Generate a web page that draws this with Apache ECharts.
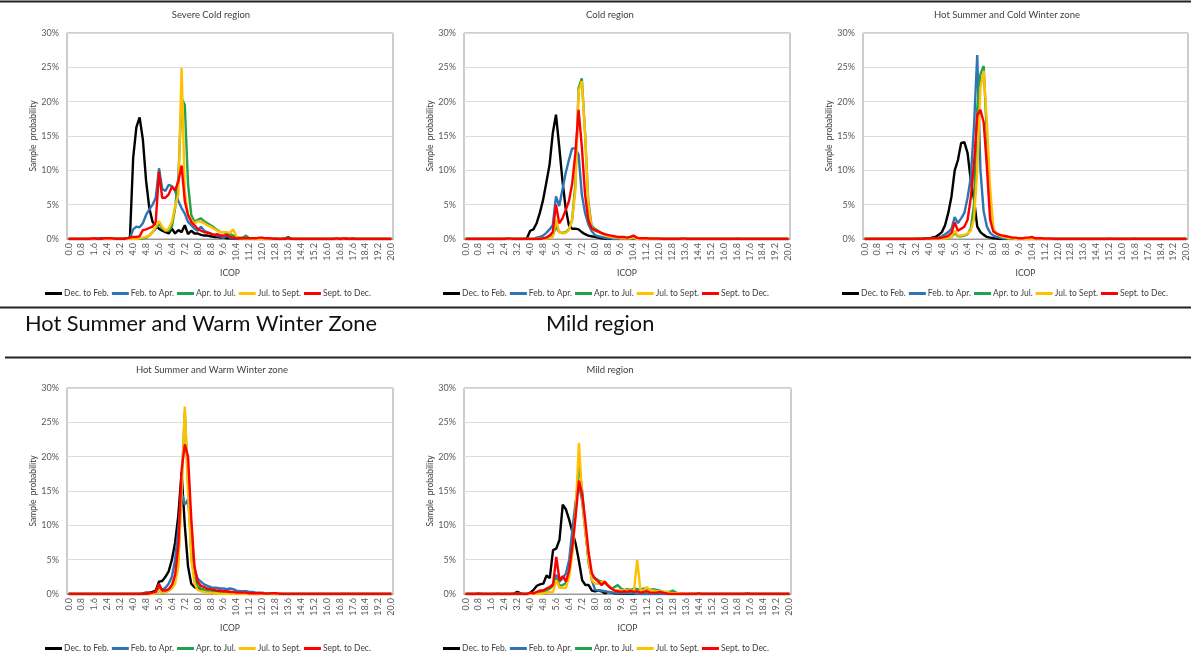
<!DOCTYPE html>
<html><head><meta charset="utf-8">
<script src="https://cdn.jsdelivr.net/npm/echarts/dist/echarts.min.js"></script>
<style>html,body{margin:0;padding:0;background:#fff;}#c{width:1191px;height:659px;}</style>
</head><body><div id="c"></div>
<script>
// ---------- categories / tick labels ----------
const icop = ['0.0','0.2','0.4','0.6','0.8','1.0','1.2','1.4','1.6','1.8',
'2.0','2.2','2.4','2.6','2.8','3.0','3.2','3.4','3.6','3.8',
'4.0','4.2','4.4','4.6','4.8','5.0','5.2','5.4','5.6','5.8',
'6.0','6.2','6.4','6.6','6.8','7.0','7.2','7.4','7.6','7.8',
'8.0','8.2','8.4','8.6','8.8','9.0','9.2','9.4','9.6','9.8',
'10.0','10.2','10.4','10.6','10.8','11.0','11.2','11.4','11.6','11.8',
'12.0','12.2','12.4','12.6','12.8','13.0','13.2','13.4','13.6','13.8',
'14.0','14.2','14.4','14.6','14.8','15.0','15.2','15.4','15.6','15.8',
'16.0','16.2','16.4','16.6','16.8','17.0','17.2','17.4','17.6','17.8',
'18.0','18.2','18.4','18.6','18.8','19.0','19.2','19.4','19.6','19.8','20.0'];
const seasons = ['Dec. to Feb.','Feb. to Apr.','Apr. to Jul.','Jul. to Sept.','Sept. to Dec.'];
const panelTitles = ['Severe Cold region','Cold region','Hot Summer and Cold Winter zone','Hot Summer and Warm Winter zone','Mild region'];
const headerTitles = ['Hot Summer and Warm Winter Zone','Mild region'];

// ---------- Severe Cold region (sample probability, %) ----------
const sc_dec = [0,0,0,0,0,0,0,0,0,0.05, 0.1,0.1,0.1,0.1,0.05,0.05,0.05,0.05,0.1,0.2, 11.8,16.3,17.7,14.5,8.5,4.5,2.5,2.0,1.5,1.2, 1.0,0.8,1.5,0.8,1.3,1.0,2.0,0.7,1.2,0.8, 0.8,0.6,0.5,0.5,0.4,0.3,0.3,0.2,0.2,0.1, 0.1,0.05,0,0,0,0,0,0,0,0, 0,0,0,0,0,0,0,0.1,0.25,0.05, 0,0,0,0,0,0,0,0,0,0, 0,0,0,0,0,0,0.1,0,0.1,0, 0,0,0,0,0,0,0,0,0,0, 0];
const sc_feb = [0,0,0,0,0,0,0,0,0,0, 0,0,0,0,0,0,0,0,0,0.1, 1.4,1.8,1.7,2.3,3.5,4.3,5.0,6.0,10.3,7.3, 7.0,7.9,7.7,7.0,5.5,4.5,3.7,2.5,2.0,1.5, 1.2,1.8,1.2,1.0,0.8,0.6,0.5,0.4,0.2,0.5, 0.2,0.1,0.05,0,0,0,0,0,0,0, 0,0,0,0,0.1,0,0,0,0,0, 0,0,0,0,0,0,0,0,0,0, 0,0,0,0,0,0,0,0,0,0, 0,0,0,0,0,0,0,0,0,0, 0];
const sc_apr = [0,0,0,0,0,0,0,0,0,0, 0,0,0,0,0,0,0,0,0,0, 0,0,0,0.1,0.2,0.5,1.0,1.5,2.3,1.5, 1.3,1.2,1.8,4.5,9.0,20.5,19.5,8.0,3.5,2.5, 2.8,3.0,2.6,2.3,2.0,1.7,1.3,1.0,1.0,0.8, 0.7,0.5,0.3,0.2,0.2,0.5,0.1,0.05,0,0, 0,0,0,0,0,0,0,0,0,0, 0,0,0,0,0,0,0,0,0,0, 0,0,0,0,0,0,0,0,0,0, 0,0,0,0,0,0,0,0,0,0, 0];
const sc_jul = [0,0,0,0,0,0,0,0,0,0, 0,0,0,0,0,0,0,0,0,0, 0,0,0.1,0.2,0.3,0.5,1.0,1.8,2.6,1.8, 1.2,1.5,2.5,4.8,6.5,24.9,7.0,3.5,2.8,2.3, 2.6,2.5,2.3,2.0,1.8,1.5,1.2,1.0,1.0,1.0, 0.9,1.4,0.4,0.1,0.05,0,0,0,0,0, 0,0,0,0,0,0,0,0,0,0, 0,0,0,0,0,0,0,0,0,0, 0,0,0,0,0,0,0,0,0,0, 0,0,0,0,0,0,0,0,0,0, 0];
const sc_sep = [0,0,0,0,0,0,0,0.05,0.1,0, 0,0.1,0.1,0.1,0.05,0,0,0,0.1,0.2, 0.3,0.3,0.4,1.3,1.4,1.6,1.8,2.5,9.8,6.0, 6.0,6.5,7.6,7.1,8.4,10.7,5.5,3.5,2.5,2.0, 1.5,1.2,1.0,0.9,0.8,0.6,0.7,0.5,0.5,0.6, 0.3,0.2,0.1,0.1,0.1,0.1,0.1,0.1,0.1,0.2, 0.2,0.1,0.1,0.05,0,0,0,0,0.1,0, 0,0,0,0,0,0,0,0,0,0, 0,0,0,0.1,0,0.1,0,0,0,0, 0,0,0,0,0,0,0,0,0,0, 0];

// ---------- Cold region ----------
const cd_dec = [0,0,0,0,0,0,0,0,0,0, 0,0,0,0.05,0,0,0,0,0,0.1, 1.2,1.4,2.3,3.8,5.7,8.2,10.8,15.4,18.1,13.5, 8.5,4.5,2.0,1.5,1.5,1.4,1.0,0.7,0.5,0.4, 0.3,0.2,0.1,0.05,0,0,0,0,0,0, 0,0,0,0,0,0,0,0,0,0, 0,0,0,0,0,0,0,0,0,0, 0,0,0,0,0,0,0,0,0,0, 0,0,0,0,0,0,0,0,0,0, 0,0,0,0,0,0,0,0,0,0, 0];
const cd_feb = [0,0,0,0,0,0,0,0,0,0, 0,0,0,0,0,0,0,0,0,0, 0,0,0.2,0.3,0.5,0.9,1.4,2.0,6.2,4.8, 7.2,9.6,11.5,13.2,13.2,12.3,6.5,3.8,2.2,1.2, 0.6,0.4,0.3,0.2,0.1,0.1,0,0,0,0, 0,0,0,0,0,0,0,0,0,0, 0,0,0,0,0,0,0,0,0,0, 0,0,0,0,0,0,0,0,0,0, 0,0,0,0,0,0,0,0,0,0, 0,0,0,0,0,0,0,0,0,0, 0];
const cd_apr = [0,0,0,0,0,0,0,0,0,0, 0,0,0,0,0,0,0,0,0,0, 0,0,0,0,0.1,0.2,0.3,0.5,1.8,1.0, 0.9,1.0,1.4,2.8,8.0,22.0,23.4,15.5,5.5,2.0, 1.5,1.2,0.9,0.7,0.5,0.4,0.3,0.2,0.2,0.1, 0.1,0.1,0.2,0,0,0,0,0,0,0, 0,0,0,0,0,0,0,0,0,0, 0,0,0,0,0,0,0,0,0,0, 0,0,0,0,0,0,0,0,0,0, 0,0,0,0,0,0,0,0,0,0, 0];
const cd_jul = [0,0,0,0,0,0,0,0,0,0, 0,0,0,0,0,0,0,0,0,0, 0,0,0,0,0,0.1,0.2,0.3,2.8,1.0, 0.8,0.9,1.3,2.8,7.0,21.5,23.0,15.5,5.0,1.8, 1.2,1.0,0.8,0.6,0.4,0.3,0.2,0.2,0.1,0.1, 0.1,0.1,0.3,0,0,0,0,0,0,0, 0,0,0,0,0,0,0,0,0,0, 0,0,0,0,0,0,0,0,0,0, 0,0,0,0,0,0,0,0,0,0, 0,0,0,0,0,0,0,0,0,0, 0];
const cd_sep = [0,0,0,0,0,0,0,0,0,0, 0,0,0,0.05,0.05,0,0,0,0,0, 0,0,0,0,0.1,0.2,0.5,1.0,5.0,2.3, 3.0,4.2,5.5,8.0,12.5,18.8,13.5,6.5,2.8,1.6, 1.3,1.1,0.9,0.7,0.6,0.5,0.4,0.3,0.3,0.3, 0.2,0.3,0.5,0.2,0.1,0.1,0.1,0.05,0.05,0.05, 0.05,0,0,0,0,0,0,0.05,0.05,0, 0,0,0,0,0,0,0,0,0,0, 0,0,0,0,0.05,0,0,0,0,0, 0,0,0,0,0,0,0,0,0,0, 0];

// ---------- Hot Summer and Cold Winter zone ----------
const hc_dec = [0,0,0,0,0,0,0,0,0,0, 0,0,0,0,0,0,0.05,0.05,0.05,0.1, 0.1,0.2,0.3,0.6,1.0,2.0,3.8,6.2,10.0,11.5, 14.0,14.1,12.5,8.5,5.8,1.8,1.0,0.6,0.3,0.2, 0.1,0.05,0,0,0,0,0,0,0,0, 0,0,0,0,0,0,0,0,0,0, 0,0,0,0,0,0,0,0,0,0, 0,0,0,0,0,0,0,0,0,0, 0,0,0,0,0,0,0,0,0,0, 0,0,0,0,0,0,0,0,0,0, 0];
const hc_feb = [0,0,0,0,0,0,0,0,0,0, 0,0,0,0,0,0,0,0,0,0, 0,0,0.1,0.2,0.4,0.7,1.0,1.5,3.2,2.3, 3.0,3.8,6.0,9.0,16.5,26.8,10.0,4.0,1.8,0.9, 0.5,0.3,0.2,0.1,0.05,0,0,0,0,0, 0,0,0,0,0,0,0,0,0,0, 0,0,0,0,0,0,0,0,0,0, 0,0,0,0,0,0,0,0,0,0, 0,0,0,0,0,0,0,0,0,0, 0,0,0,0,0,0,0,0,0,0, 0];
const hc_apr = [0,0,0,0,0,0,0,0,0,0, 0,0,0,0,0,0,0,0,0,0, 0,0,0,0,0,0.1,0.2,0.3,0.9,0.4, 0.4,0.5,0.7,1.5,5.0,19.0,24.0,25.2,15.0,5.0, 1.3,0.8,0.5,0.3,0.2,0.1,0.1,0,0,0, 0,0,0,0,0,0,0,0,0,0, 0,0,0,0,0,0,0,0,0,0, 0,0,0,0,0,0,0,0,0,0, 0,0,0,0,0,0,0,0,0,0, 0,0,0,0,0,0,0,0,0,0, 0];
const hc_jul = [0,0,0,0,0,0,0,0,0,0, 0,0,0,0,0,0,0,0,0,0, 0,0,0,0,0,0.1,0.2,0.3,1.2,0.5, 0.5,0.6,0.8,1.2,3.0,10.0,22.0,24.5,17.0,7.5, 1.5,0.8,0.5,0.3,0.2,0.1,0.1,0,0,0, 0,0,0,0,0,0,0,0,0,0, 0,0,0,0,0,0,0,0,0,0, 0,0,0,0,0,0,0,0,0,0, 0,0,0,0,0,0,0,0,0,0, 0,0,0,0,0,0,0,0,0,0, 0];
const hc_sep = [0,0,0,0,0,0,0,0,0,0, 0,0,0,0,0,0,0,0,0,0.05, 0.05,0.1,0.1,0.1,0.2,0.3,0.5,0.9,2.4,1.2, 1.5,1.8,2.8,6.0,11.0,18.0,18.8,17.0,10.5,2.8, 1.1,0.8,0.6,0.5,0.4,0.3,0.2,0.2,0.1,0.1, 0.2,0.2,0.3,0.1,0.1,0.1,0.05,0.05,0.05,0, 0,0,0,0,0,0,0,0,0,0, 0,0,0,0,0,0,0.05,0,0,0, 0,0,0,0,0.05,0,0,0,0,0, 0,0,0,0,0,0,0,0,0,0, 0];

// ---------- Hot Summer and Warm Winter zone ----------
const hw_dec = [0,0,0,0,0,0,0,0,0,0, 0,0,0,0,0,0,0,0,0,0, 0,0,0,0.1,0.2,0.2,0.3,0.5,1.8,1.9, 2.5,3.3,5.0,7.5,11.5,17.7,10.0,4.0,1.5,1.0, 0.8,0.7,0.6,0.5,0.5,0.4,0.4,0.4,0.4,0.3, 0.3,0.2,0.2,0.1,0.1,0.05,0,0,0,0, 0.05,0,0,0,0,0,0,0,0,0, 0,0,0,0,0,0,0,0,0,0, 0,0,0,0,0,0,0,0,0,0, 0,0,0,0,0,0,0,0,0,0, 0];
const hw_feb = [0,0,0,0,0,0,0,0,0,0, 0,0,0,0,0,0,0,0,0,0, 0,0,0,0,0,0,0.1,0.2,1.0,0.6, 0.9,1.5,2.5,5.0,9.5,14.8,13.0,13.8,8.0,3.5, 2.2,1.8,1.4,1.2,1.0,0.9,0.9,0.8,0.8,0.7, 0.8,0.7,0.5,0.4,0.4,0.4,0.3,0.3,0.2,0.2, 0.2,0.1,0.1,0.05,0.05,0,0,0,0,0, 0,0,0,0,0,0,0,0,0,0, 0,0,0,0,0,0,0,0,0,0, 0,0,0,0,0,0,0,0,0,0, 0];
const hw_apr = [0,0,0,0,0,0,0,0,0,0, 0,0,0,0,0,0,0,0,0,0, 0,0,0,0,0,0,0,0.1,0.5,0.2, 0.3,0.5,1.0,2.0,5.0,16.0,26.5,16.0,6.0,2.5, 1.2,0.8,0.6,0.5,0.4,0.3,0.2,0.2,0.1,0.1, 0,0,0,0,0,0,0,0,0,0, 0,0,0,0,0,0,0,0,0,0, 0,0,0,0,0,0,0,0,0,0, 0,0,0,0,0,0,0,0,0,0, 0,0,0,0,0,0,0,0,0,0, 0];
const hw_jul = [0,0,0,0,0,0,0,0,0,0, 0,0,0,0,0,0,0,0,0,0, 0,0,0,0,0,0,0,0.1,0.5,0.2, 0.3,0.5,0.8,1.5,4.0,15.0,27.3,15.0,5.0,1.5, 0.6,0.4,0.3,0.2,0.2,0.1,0.1,0,0,0, 0,0,0,0,0,0,0,0,0,0, 0,0,0,0,0,0,0,0,0,0, 0,0,0,0,0,0,0,0,0,0, 0,0,0,0,0,0,0,0,0,0, 0,0,0,0,0,0,0,0,0,0, 0];
const hw_sep = [0,0,0,0,0,0,0,0,0,0, 0,0,0,0,0,0,0,0,0,0, 0,0,0,0,0,0.1,0.2,0.3,1.5,0.5, 0.5,0.7,1.3,2.8,7.0,18.0,21.8,20.0,11.0,4.0, 1.8,1.2,1.0,0.8,0.7,0.6,0.5,0.5,0.4,0.4, 0.3,0.3,0.2,0.2,0.2,0.2,0.1,0.1,0.1,0.1, 0.1,0.05,0.05,0.1,0.1,0.05,0,0,0,0, 0,0,0,0,0,0,0,0,0,0, 0,0,0,0,0,0,0,0,0,0, 0,0,0,0,0,0,0,0,0,0, 0];

// ---------- Mild region ----------
const md_dec = [0,0,0,0,0.1,0,0,0,0,0, 0,0,0,0,0,0.1,0.3,0.1,0,0, 0.2,0.6,1.2,1.4,1.5,2.7,2.3,6.4,6.6,7.9, 13.0,12.3,10.8,9.0,7.3,4.8,2.0,1.3,1.3,0.5, 0.4,0.5,0.4,0.1,0.3,0.2,0.1,0.05,0,0, 0,0,0,0,0,0,0,0,0,0, 0,0,0,0,0,0,0,0,0,0, 0,0,0,0,0,0,0,0,0,0, 0,0,0,0,0,0,0,0.1,0,0, 0,0,0,0,0,0,0,0,0,0, 0];
const md_feb = [0,0,0,0,0,0,0,0,0,0, 0,0,0,0,0,0,0,0,0,0, 0.1,0.1,0.2,0.3,0.5,0.7,1.0,1.5,2.8,1.8, 2.3,3.0,5.0,9.5,13.5,16.0,13.5,9.0,5.0,2.0, 0.6,0.5,0.5,0.4,0.3,0.2,0.2,0.1,0.1,0.1, 0.1,0.1,0.1,0,0,0,0,0,0,0, 0,0,0,0,0,0,0,0,0,0, 0,0,0,0,0,0,0,0,0,0, 0,0,0,0,0,0,0,0,0,0, 0,0,0,0,0,0,0,0,0,0, 0];
const md_apr = [0,0,0,0,0,0,0,0,0,0, 0,0,0,0,0,0,0,0,0,0, 0,0,0.1,0.2,0.3,0.5,0.8,1.2,2.3,1.2, 1.3,1.6,3.0,7.0,12.5,19.0,15.0,9.5,4.5,2.5, 2.3,2.0,1.8,1.6,1.2,0.8,1.0,1.3,0.8,0.6, 0.7,0.6,0.8,0.7,0.6,0.8,0.7,0.6,0.7,0.6, 0.5,0.3,0.3,0.3,0.5,0.2,0.1,0,0,0, 0,0,0,0,0,0,0,0,0,0, 0,0,0,0,0,0,0,0,0,0, 0,0,0,0,0,0,0,0,0,0, 0];
const md_jul = [0,0,0,0,0,0,0,0,0,0, 0,0,0,0,0,0,0,0,0,0, 0,0,0,0,0.1,0.2,0.3,0.3,2.0,0.9, 0.9,0.9,2.5,6.0,12.0,22.0,14.0,9.0,5.0,2.0, 1.5,1.5,1.8,1.8,1.3,0.8,0.5,0.5,0.5,0.6, 0.5,0.6,0.5,5.0,0.5,0.5,1.0,0.5,0.5,0.4, 0.4,0.3,0.3,0.2,0.1,0.1,0.1,0,0.1,0, 0,0,0.1,0,0,0,0,0,0,0, 0,0,0,0,0,0,0,0,0,0, 0,0,0,0,0,0,0,0,0,0, 0];
const md_sep = [0,0,0,0,0,0,0,0,0,0, 0.05,0,0,0,0,0,0,0,0,0, 0.2,0.1,0.3,0.5,0.5,0.8,1.0,1.3,5.4,2.0, 2.6,1.8,3.5,7.0,11.5,16.5,14.5,10.5,6.0,3.0, 2.2,1.8,1.3,1.8,1.2,0.8,0.5,0.4,0.3,0.4, 0.3,0.5,0.3,0.4,0.2,0.3,0.4,0.2,0.2,0.2, 0.3,0.2,0.1,0,0,0,0,0,0,0, 0,0,0.1,0,0,0,0,0,0,0, 0,0,0,0,0,0,0,0,0,0, 0,0,0,0,0,0,0,0,0,0, 0];

const panelSeries = [
  [sc_dec, sc_feb, sc_apr, sc_jul, sc_sep],
  [cd_dec, cd_feb, cd_apr, cd_jul, cd_sep],
  [hc_dec, hc_feb, hc_apr, hc_jul, hc_sep],
  [hw_dec, hw_feb, hw_apr, hw_jul, hw_sep],
  [md_dec, md_feb, md_apr, md_jul, md_sep]
];

// ---------- layout & style ----------
const colors = ['#000000', '#2E75B6', '#22A24A', '#FFC000', '#FF0000'];
const FONT = 'Lato';
const layout = [
  {left: 67,  top: 33,  width: 326, titleX: 211,  titleTop: 10,  legendLeft: 45,  legendTop: 289},
  {left: 464, top: 33,  width: 326, titleX: 610,  titleTop: 10,  legendLeft: 443, legendTop: 289},
  {left: 863, top: 33,  width: 325, titleX: 1007, titleTop: 10,  legendLeft: 842, legendTop: 289},
  {left: 67,  top: 388, width: 326, titleX: 212,  titleTop: 365, legendLeft: 45,  legendTop: 644},
  {left: 464, top: 388, width: 327, titleX: 610,  titleTop: 365, legendLeft: 443, legendTop: 644}
];
const PH = 206;

const grids = [], xAxes = [], yAxes = [], series = [], titles = [], legends = [];
layout.forEach((L, p) => {
  grids.push({left: L.left, top: L.top, width: L.width, height: PH, show: true,
    borderColor: '#9a9a9a', borderWidth: 1, containLabel: false});
  xAxes.push({type: 'category', gridIndex: p, data: icop, boundaryGap: true,
    name: 'ICOP', nameLocation: 'middle', nameGap: 30,
    nameTextStyle: {fontFamily: FONT, fontSize: 8.5, color: '#404040'},
    axisLine: {show: true, lineStyle: {color: '#9a9a9a', width: 1}},
    axisTick: {show: false},
    axisLabel: {interval: 3, rotate: 90, margin: 4, fontFamily: FONT, fontSize: 9, color: '#595959'},
    splitLine: {show: false}});
  yAxes.push({type: 'value', gridIndex: p, min: 0, max: 30, interval: 5,
    name: 'Sample  probability', nameLocation: 'middle', nameGap: 25,
    nameTextStyle: {fontFamily: FONT, fontSize: 8.5, color: '#404040'},
    axisLine: {show: false}, axisTick: {show: false},
    axisLabel: {formatter: '{value}%', margin: 8, fontFamily: FONT, fontSize: 9, color: '#595959'},
    splitLine: {show: true, lineStyle: {color: '#dcdcdc', width: 1}}});
  panelSeries[p].forEach((arr, s) => {
    series.push({type: 'line', name: seasons[s], xAxisIndex: p, yAxisIndex: p, data: arr,
      symbol: 'none', smooth: false, color: colors[s],
      lineStyle: {color: colors[s], width: 2.4}, z: 2 + s});
  });
  titles.push({text: panelTitles[p], left: L.titleX, top: L.titleTop, textAlign: 'center', padding: 0,
    textStyle: {fontFamily: FONT, fontSize: 9.5, fontWeight: 'normal', color: '#404040'}});
  legends.push({data: seasons, left: L.legendLeft, top: L.legendTop, orient: 'horizontal',
    icon: 'rect', itemWidth: 17, itemHeight: 3, itemGap: 3, padding: 0,
    textStyle: {fontFamily: FONT, fontSize: 8.5, color: '#404040', padding: [0, 0, 0, -3]}});
});
titles.push({text: headerTitles[0], left: 25, top: 313, padding: 0,
  textStyle: {fontFamily: FONT, fontSize: 21.8, fontWeight: 'normal', color: '#111'}});
titles.push({text: headerTitles[1], left: 546, top: 313, padding: 0,
  textStyle: {fontFamily: FONT, fontSize: 21.8, fontWeight: 'normal', color: '#111'}});

const chart = echarts.init(document.getElementById('c'), null, {renderer: 'canvas'});
chart.setOption({
  backgroundColor: '#ffffff',
  animation: false,
  title: titles,
  legend: legends,
  grid: grids,
  xAxis: xAxes,
  yAxis: yAxes,
  series: series,
  graphic: [
    {type: 'line', shape: {x1: 0, y1: 1.5, x2: 1191, y2: 1.5}, style: {stroke: '#222', lineWidth: 2}, silent: true},
    {type: 'line', shape: {x1: 0, y1: 307.5, x2: 1191, y2: 307.5}, style: {stroke: '#222', lineWidth: 2}, silent: true},
    {type: 'line', shape: {x1: 5, y1: 357.5, x2: 1191, y2: 357.5}, style: {stroke: '#222', lineWidth: 2}, silent: true}
  ]
});
</script></body></html>
